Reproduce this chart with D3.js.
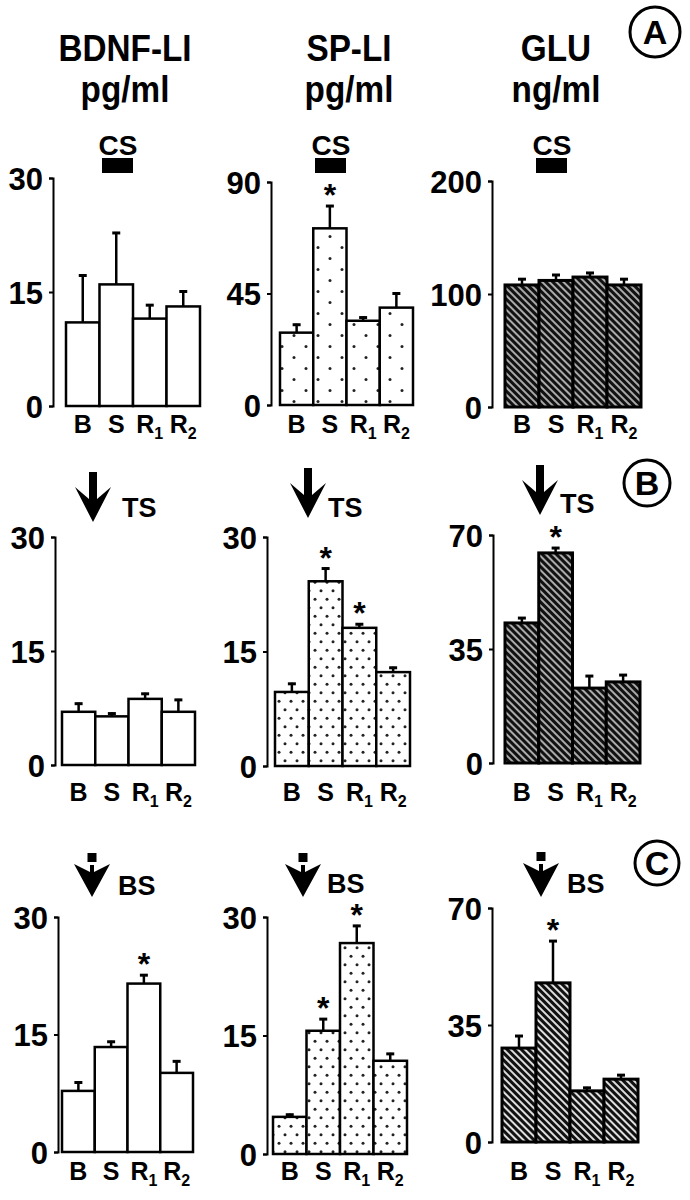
<!DOCTYPE html>
<html>
<head>
<meta charset="utf-8">
<script src="https://cdn.jsdelivr.net/npm/d3@7"></script>
<style>
  body { margin: 0; background: #fff; }
  svg { display: block; }
  text { font-family: "Liberation Sans", Arial, sans-serif; font-weight: bold; fill: #000; }
</style>
</head>
<body>
<div id="chart"></div>
<script>
// categories and labels
var groups = ["B", "S", "R1", "R2"];
var titles = ["BDNF-LI", "SP-LI", "GLU"];
var units = ["pg/ml", "pg/ml", "ng/ml"];
var panelLetters = ["A", "B", "C"];
var stimuli = ["CS", "TS", "BS"];

// y-axis maximum per row (columns BDNF, SP, GLU)
var yMaxA = [30, 90, 200];
var yMaxB = [30, 30, 70];
var yMaxC = [30, 30, 70];

// row A (CS)
var bdnfA = [11.0, 16.0, 11.5, 13.1], bdnfAErr = [6.3, 6.9, 1.9, 2.1];
var spA   = [29.2, 71.3, 34.0, 39.3], spAErr   = [3.6, 9.4, 1.7, 6.1];
var gluA  = [108, 112, 115, 108],     gluAErr  = [6, 5.7, 4.5, 6];
// row B (TS)
var bdnfB = [7.0, 6.4, 8.7, 7.0],     bdnfBErr = [1.2, 0.5, 0.8, 1.7];
var spB   = [9.7, 24.2, 18.1, 12.3],  spBErr   = [1.2, 1.8, 0.6, 0.7];
var gluB  = [43, 64.5, 23, 24.9],     gluBErr  = [1.8, 1.8, 4.0, 2.4];
// row C (BS)
var bdnfC = [7.8, 13.4, 21.5, 10.1],  bdnfCErr = [1.2, 0.8, 1.2, 1.6];
var spC   = [4.7, 15.6, 26.7, 11.8],  spCErr   = [0.4, 1.6, 2.3, 1.0];
var gluC  = [28.1, 47.6, 15.3, 18.8], gluCErr  = [3.9, 12.8, 1.2, 1.5];

// significant groups (asterisks)
var starsA = [[], ["S"], []];
var starsB = [[], ["S", "R1"], ["S"]];
var starsC = [["R1"], ["S", "R1"], ["S"]];

var rows = [
  { max: yMaxA, vals: [bdnfA, spA, gluA], errs: [bdnfAErr, spAErr, gluAErr], stars: starsA },
  { max: yMaxB, vals: [bdnfB, spB, gluB], errs: [bdnfBErr, spBErr, gluBErr], stars: starsB },
  { max: yMaxC, vals: [bdnfC, spC, gluC], errs: [bdnfCErr, spCErr, gluCErr], stars: starsC }
];

// panel placement: axis x, bars x0, bars x1, y top, y zero
var layout = [
  [[53, 66, 200, 178, 406], [271, 280, 413, 182, 405], [492, 505, 641, 181, 407]],
  [[55, 62, 195, 537, 765], [267, 275, 410, 537, 766], [493, 505, 640, 535, 763]],
  [[58, 62, 193, 917, 1152], [267, 273, 407, 917, 1154], [492, 502, 638, 908, 1142]]
];
var labelY = [433, 801, 1180];
var colCenter = [125, 349, 556];

var w = 690, h = 1200;
var svg = d3.select("#chart").append("svg").attr("width", w).attr("height", h);
var defs = svg.append("defs");

// dotted fill patterns
function dotPattern(id, pw, ph) {
  var p = defs.append("pattern").attr("id", id).attr("patternUnits", "userSpaceOnUse")
    .attr("width", pw).attr("height", ph);
  p.append("rect").attr("width", pw).attr("height", ph).attr("fill", "#fff");
  p.append("circle").attr("cx", pw / 4).attr("cy", ph / 4).attr("r", 1.5).attr("fill", "#222");
  p.append("circle").attr("cx", pw * 3 / 4).attr("cy", ph * 3 / 4).attr("r", 1.5).attr("fill", "#222");
}
dotPattern("dotsA", 24, 22);
dotPattern("dotsB", 12, 17);
dotPattern("dotsC", 12, 17);

// hatch patterns for glutamate
function hatch(id, light) {
  var p = defs.append("pattern").attr("id", id).attr("patternUnits", "userSpaceOnUse")
    .attr("width", 5).attr("height", 5).attr("patternTransform", "rotate(45)");
  p.append("rect").attr("width", 5).attr("height", 5).attr("fill", "#111");
  p.append("rect").attr("width", 5).attr("height", 2).attr("fill", light);
}
hatch("hatchA", "#aaa");
hatch("hatchB", "#aaa");
hatch("hatchC", "#ddd");

function fillFor(r, c) {
  if (c == 0) return "#fff";
  if (c == 1) return "url(#dots" + panelLetters[r] + ")";
  return "url(#hatch" + panelLetters[r] + ")";
}

// column headers
titles.forEach(function(t, i) {
  svg.append("g").attr("transform", "translate(" + colCenter[i] + ",61) scale(0.9,1)")
    .append("text").attr("text-anchor", "middle").attr("font-size", 37).text(t);
  svg.append("g").attr("transform", "translate(" + colCenter[i] + ",102) scale(0.9,1)")
    .append("text").attr("text-anchor", "middle").attr("font-size", 37).text(units[i]);
});

// panel letters in circles
var circ = [[655, 32, 25], [647, 483, 23], [657, 863, 22]];
panelLetters.forEach(function(l, i) {
  svg.append("circle").attr("cx", circ[i][0]).attr("cy", circ[i][1]).attr("r", circ[i][2])
    .attr("fill", "none").attr("stroke", "#000").attr("stroke-width", 3);
  svg.append("text").attr("x", circ[i][0]).attr("y", circ[i][1] + 12).attr("text-anchor", "middle")
    .attr("font-size", 34).text(l);
});

// CS markers (row A)
var csX = [102, 315, 536];
csX.forEach(function(x) {
  svg.append("text").attr("x", x + 16).attr("y", 155).attr("text-anchor", "middle")
    .attr("font-size", 28).text(stimuli[0]);
  svg.append("rect").attr("x", x).attr("y", 158).attr("width", 31).attr("height", 15).attr("fill", "#000");
});

// TS arrows (row B)
var tsArrow = [[93, 472, 522, 122, 517], [308, 468, 518, 328, 517], [540, 465, 515, 560, 513]];
tsArrow.forEach(function(a) {
  var cx = a[0], t = a[1], tip = a[2];
  var pts = [[cx - 4, t], [cx + 4, t], [cx + 4, t + 27], [cx + 18, t + 15], [cx, tip],
             [cx - 18, t + 15], [cx - 4, t + 27]];
  svg.append("polygon").attr("points", pts.map(function(p) { return p.join(","); }).join(" ")).attr("fill", "#000");
  svg.append("text").attr("x", a[3]).attr("y", a[4]).attr("font-size", 27).text(stimuli[1]);
});

// BS arrows (row C)
var bsArrow = [[92, 853, 897, 118, 895], [303, 853, 897, 327, 893], [541, 852, 897, 567, 893]];
bsArrow.forEach(function(a) {
  var cx = a[0], t = a[1], tip = a[2];
  svg.append("rect").attr("x", cx - 4.5).attr("y", t).attr("width", 9).attr("height", 9).attr("fill", "#000");
  var pts = [[cx - 18, t + 11], [cx - 2, t + 19], [cx - 2, t + 12], [cx + 2, t + 12], [cx + 2, t + 19],
             [cx + 18, t + 11], [cx, tip]];
  svg.append("polygon").attr("points", pts.map(function(p) { return p.join(","); }).join(" ")).attr("fill", "#000");
  svg.append("text").attr("x", a[3]).attr("y", a[4]).attr("font-size", 27).text(stimuli[2]);
});

// bar panels
rows.forEach(function(row, r) {
  for (var c = 0; c < 3; c++) {
    var L = layout[r][c];
    var max = row.max[c];
    var x = d3.scaleBand().domain(groups).range([L[1], L[2]]).padding(0);
    var y = d3.scaleLinear().domain([0, max]).range([L[4], L[3]]);
    var data = groups.map(function(g, i) {
      return { g: g, v: row.vals[c][i], e: row.errs[c][i], star: row.stars[c].indexOf(g) >= 0 };
    });
    var g = svg.append("g");

    // axis
    var ax = g.append("g").attr("transform", "translate(" + L[0] + ",0)")
      .call(d3.axisLeft(y).tickValues([0, max / 2, max]).tickSize(4).tickPadding(6).tickFormat(d3.format("d")));
    ax.select(".domain").attr("stroke-width", 2);
    ax.selectAll(".tick line").attr("stroke-width", 2);
    ax.selectAll(".tick text").attr("font-size", 31).attr("font-family", null).attr("dy", "0.36em");
    ax.attr("font-family", null).attr("font-size", null);

    // error bars
    g.selectAll(".err").data(data).enter().append("line")
      .attr("x1", function(d) { return x(d.g) + x.bandwidth() / 2; })
      .attr("x2", function(d) { return x(d.g) + x.bandwidth() / 2; })
      .attr("y1", function(d) { return y(d.v); })
      .attr("y2", function(d) { return y(d.v + d.e); })
      .attr("stroke", "#000").attr("stroke-width", 2.5);
    g.selectAll(".cap").data(data).enter().append("line")
      .attr("x1", function(d) { return x(d.g) + x.bandwidth() / 2 - 4; })
      .attr("x2", function(d) { return x(d.g) + x.bandwidth() / 2 + 4; })
      .attr("y1", function(d) { return y(d.v + d.e) + 1; })
      .attr("y2", function(d) { return y(d.v + d.e) + 1; })
      .attr("stroke", "#000").attr("stroke-width", 3);

    // bars
    g.selectAll(".bar").data(data).enter().append("rect")
      .attr("x", function(d) { return x(d.g); })
      .attr("y", function(d) { return y(d.v); })
      .attr("width", x.bandwidth())
      .attr("height", function(d) { return y(0) - y(d.v); })
      .attr("fill", fillFor(r, c))
      .attr("stroke", "#000").attr("stroke-width", c == 2 ? 3 : 2.5);

    // asterisks
    g.selectAll(".star").data(data.filter(function(d) { return d.star; })).enter().append("text")
      .attr("x", function(d) { return x(d.g) + x.bandwidth() / 2; })
      .attr("y", function(d) { return y(d.v + d.e) + 1; })
      .attr("text-anchor", "middle").attr("font-size", 32).text("*");

    // group labels
    var lab = g.selectAll(".lab").data(groups).enter().append("text")
      .attr("x", function(d) { return x(d) + x.bandwidth() / 2; })
      .attr("y", labelY[r]).attr("text-anchor", "middle").attr("font-size", 25);
    lab.append("tspan").text(function(d) { return d.charAt(0); });
    lab.filter(function(d) { return d.length > 1; }).append("tspan")
      .attr("font-size", 16).attr("dy", 6).text(function(d) { return d.charAt(1); });
  }
});
</script>
</body>
</html>
